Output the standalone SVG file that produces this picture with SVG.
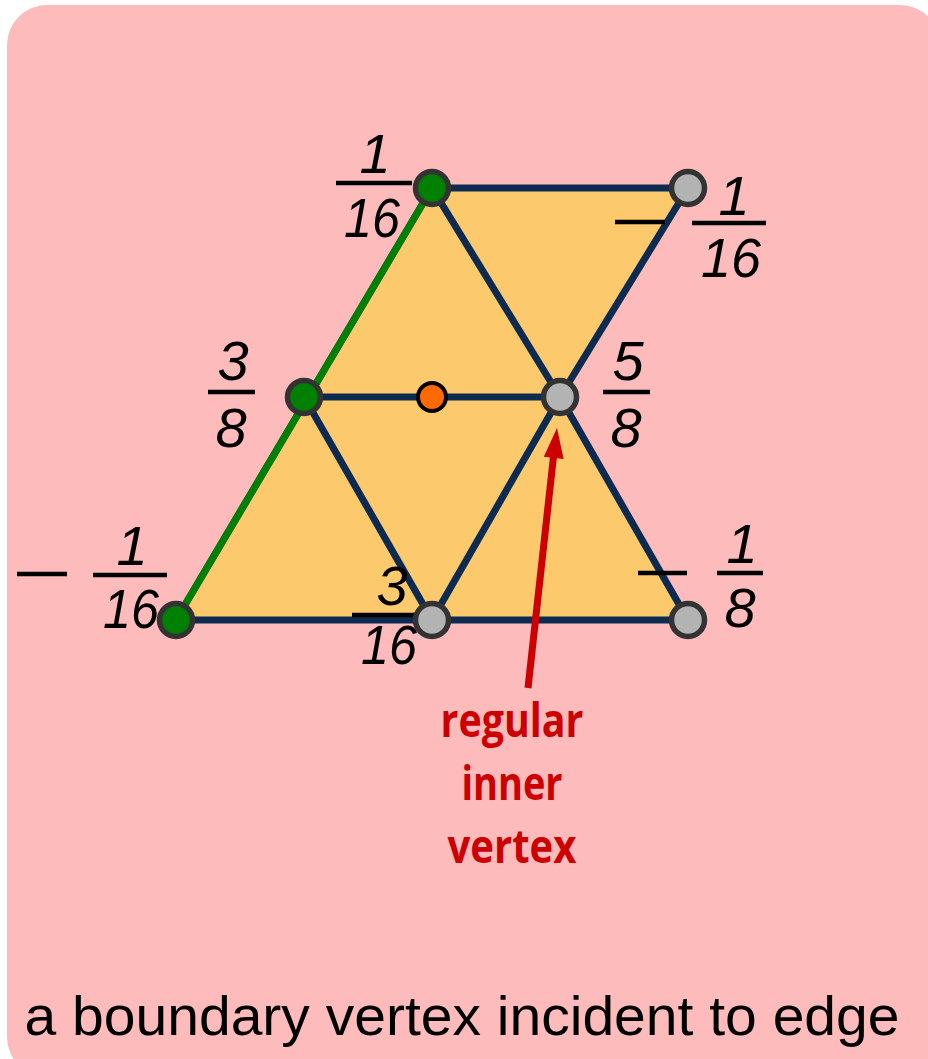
<svg xmlns="http://www.w3.org/2000/svg" width="928" height="1059" viewBox="0 0 928 1059">
<style>
.edge{stroke:#0d2a50;stroke-width:7;fill:none;stroke-linecap:round}
.num{font-family:"Liberation Sans",Arial,sans-serif;font-style:italic;font-size:56px;fill:#000;text-anchor:middle}
.bar{stroke:#000;stroke-width:4.5}
.v{stroke:#333;stroke-width:5.5}
.lbl{font-family:"Open Sans","Liberation Sans",sans-serif;font-weight:bold;font-size:47px;fill:#cc0000;text-anchor:middle}
</style>
<rect x="7" y="5" width="933" height="1072" rx="40" ry="40" fill="#fdbbbb"/>
<polygon points="176,620 432,188 688,188 560,397 688,620" fill="#fcca6d"/>
<g id="connectors">
<line class="edge" x1="432" y1="188" x2="688" y2="188"/>
<line class="edge" x1="304" y1="397" x2="560" y2="397"/>
<line class="edge" x1="176" y1="620" x2="688" y2="620"/>
<line class="edge" x1="432" y1="188" x2="560" y2="397"/>
<line class="edge" x1="688" y1="188" x2="560" y2="397"/>
<line class="edge" x1="304" y1="397" x2="432" y2="620"/>
<line class="edge" x1="560" y1="397" x2="432" y2="620"/>
<line class="edge" x1="560" y1="397" x2="688" y2="620"/>
<line class="edge" x1="176" y1="620" x2="432" y2="188" stroke-width="9"/>
<line x1="176" y1="620" x2="432" y2="188" stroke="#008000" stroke-width="7"/>
<line x1="528" y1="688" x2="554" y2="452" stroke="#cc0000" stroke-width="7"/>
<polygon points="557,428 563.6,458.9 543.8,456.7" fill="#cc0000"/>
</g>
<g id="labels">
<text class="num" x="375" y="173">1</text>
<line class="bar" x1="336" y1="183" x2="412" y2="183"/>
<text class="num" x="372" y="237" textLength="56" lengthAdjust="spacingAndGlyphs">16</text>

<line class="bar" x1="615" y1="222" x2="665" y2="222"/>
<text class="num" x="734" y="215">1</text>
<line class="bar" x1="692" y1="223" x2="766" y2="223"/>
<text class="num" x="731" y="277" textLength="60" lengthAdjust="spacingAndGlyphs">16</text>

<text class="num" x="233" y="380">3</text>
<line class="bar" x1="208" y1="392" x2="255" y2="392"/>
<text class="num" x="231" y="447">8</text>

<text class="num" x="628" y="380">5</text>
<line class="bar" x1="603" y1="392" x2="650" y2="392"/>
<text class="num" x="626" y="447">8</text>

<line class="bar" x1="17" y1="574" x2="67" y2="574"/>
<text class="num" x="132" y="565">1</text>
<line class="bar" x1="93" y1="575" x2="167" y2="575"/>
<text class="num" x="131" y="628" textLength="56" lengthAdjust="spacingAndGlyphs">16</text>

<text class="num" x="392" y="605">3</text>
<line class="bar" x1="352" y1="615" x2="428" y2="615"/>
<text class="num" x="389" y="664" textLength="56" lengthAdjust="spacingAndGlyphs">16</text>

<line class="bar" x1="638" y1="573" x2="687" y2="573"/>
<text class="num" x="742" y="563">1</text>
<line class="bar" x1="717" y1="573" x2="763" y2="573"/>
<text class="num" x="740" y="627">8</text>

<text class="lbl" x="512" y="737" textLength="143" lengthAdjust="spacingAndGlyphs">regular</text>
<text class="lbl" x="512" y="800" textLength="101" lengthAdjust="spacingAndGlyphs">inner</text>
<text class="lbl" x="512" y="863" textLength="129" lengthAdjust="spacingAndGlyphs">vertex</text>

<text x="462" y="1035" font-family="'Liberation Sans',Arial,sans-serif" font-size="56" text-anchor="middle" textLength="875" lengthAdjust="spacingAndGlyphs">a boundary vertex incident to edge</text>
</g>
<g id="n-top-left"><circle class="v" cx="432" cy="188" r="16.5" fill="#008000"/></g>
<g id="n-top-right"><circle class="v" cx="688" cy="188" r="16.5" fill="#b3b3b3"/></g>
<g id="n-mid-left"><circle class="v" cx="304" cy="397" r="16.5" fill="#008000"/></g>
<g id="n-mid-center"><circle cx="432" cy="397" r="14" fill="#ff6a00" stroke="#000" stroke-width="4"/></g>
<g id="n-mid-right"><circle class="v" cx="560" cy="397" r="16.5" fill="#b3b3b3"/></g>
<g id="n-bottom-left"><circle class="v" cx="176" cy="620" r="16.5" fill="#008000"/></g>
<g id="n-bottom-mid"><circle class="v" cx="432" cy="620" r="16.5" fill="#b3b3b3"/></g>
<g id="n-bottom-right"><circle class="v" cx="688" cy="620" r="16.5" fill="#b3b3b3"/></g>
</svg>
